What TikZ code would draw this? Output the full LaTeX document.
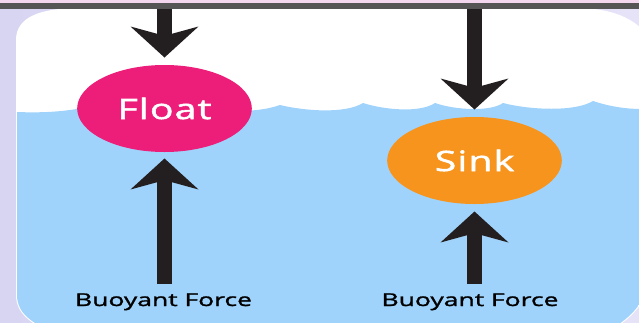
\documentclass[tikz,border=0pt]{standalone}
\usepackage{fontspec}
\usetikzlibrary{arrows.meta,shapes.geometric}
\newfontfamily\ballfont[FakeStretch=1.4,LetterSpace=4,FakeBold=2]{Open Sans}
\newfontfamily\forcefont[FakeStretch=1.5,FakeBold=1.5]{Open Sans}
\definecolor{bgleft}{HTML}{D8D5F3}
\definecolor{bgright}{HTML}{E6E2F8}
\definecolor{topstrip}{HTML}{F2D7EE}
\definecolor{topband}{HTML}{555555}
\definecolor{water}{HTML}{A0D3FB}
\definecolor{floatpink}{HTML}{ED1E79}
\definecolor{sinkorange}{HTML}{F7941D}
\definecolor{forcearrow}{HTML}{231F20}

\tikzset{every picture/.style={line width=0.75pt}}
\tikzset{
  ball/.style={ellipse, inner sep=0pt, minimum width=131pt, minimum height=65.25pt, text=white, font=\ballfont\fontsize{21}{22}\selectfont},
  force/.style={forcearrow, line width=11.25pt, -{Stealth[length=23.25pt, width=51pt, inset=7pt, line width=0pt]}},
  forcelabel/.style={anchor=base, text=black, font=\forcefont\fontsize{13.25}{14}\selectfont}
}

\begin{document}
\begin{tikzpicture}[x=0.75pt,y=0.75pt,yscale=-1,xscale=1]
\useasboundingbox (0,0) rectangle (639,322);
\clip (0,0) rectangle (639,322);

% background
\shade[left color=bgleft, right color=bgright] (0,0) rectangle (639,322);

% panel
\path[fill=white, draw=white, line width=1.5pt] (17,40) .. controls (17,18) and (40,9) .. (80,9) -- (575,9) .. controls (610,9) and (635,18) .. (650,40) -- (650,260) .. controls (650,295) and (640,315) .. (600,335) -- (60,335) .. controls (35,325) and (17,315) .. (17,295) -- cycle;

% water
\begin{scope}
\clip (17,40) .. controls (17,18) and (40,9) .. (80,9) -- (575,9) .. controls (610,9) and (635,18) .. (650,40) -- (650,260) .. controls (650,295) and (640,315) .. (600,335) -- (60,335) .. controls (35,325) and (17,315) .. (17,295) -- cycle;
\fill[water] (0,111) .. controls (40,114) and (70,112) .. (100,104)
  .. controls (130,112) and (170,114) .. (190,104)
  .. controls (215,112) and (255,114) .. (280,105)
  .. controls (305,111) and (345,114) .. (363,103)
  .. controls (385,110) and (420,113) .. (435,103)
  .. controls (455,110) and (490,112) .. (503,103)
  .. controls (530,110) and (575,112) .. (593,101)
  .. controls (620,110) and (650,112) .. (680,104)
  -- (680,340) -- (0,340) -- cycle;
\end{scope}

% top strip
\fill[topstrip] (0,0) rectangle (639,3);

% Text Node
\node[ball, fill=floatpink] (float) at (164.5,108.5) {Float};
% Text Node
\node[ball, fill=sinkorange] (sink) at (474.5,160.5) {Sink};
% Text Node
\node[forcelabel] (lblF) at (163.5,306) {Buoyant Force};
% Text Node
\node[forcelabel] (lblS) at (470,306) {Buoyant Force};

\coordinate (floatTop) at (164.5,3);
\coordinate (sinkTop) at (474.5,3);
\coordinate (floatBase) at (164.5,284);
\coordinate (sinkBase) at (474.5,284);

% weight arrows
\draw[force, shorten >=5.25pt] (floatTop) -- (float.north);
\draw[force, shorten >=5.25pt] (sinkTop) -- (sink.north);
% buoyant arrows
\draw[force, shorten >=4.5pt] (floatBase) -- (float.south);
\draw[force, shorten >=5.25pt] (sinkBase) -- (sink.south);

\fill[topband] (0,3) rectangle (639,9);

\end{tikzpicture}
\end{document}
